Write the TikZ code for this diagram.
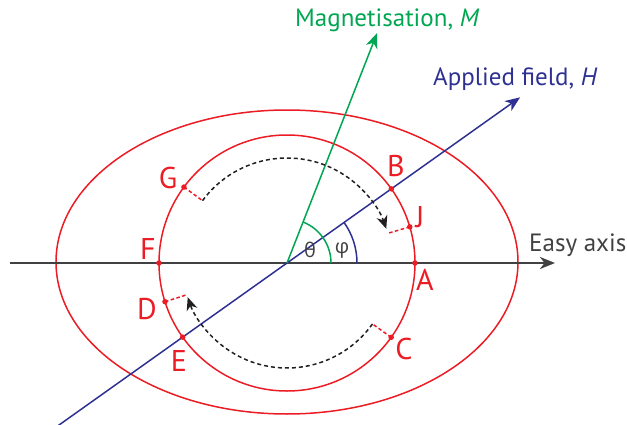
\documentclass[tikz,border=0pt]{standalone}
\usepackage{fontspec}
\setmainfont{PT Sans}
\newfontfamily\grk{Open Sans}
\usetikzlibrary{arrows.meta}
\definecolor{myred}{RGB}{236,28,36}
\definecolor{mygreen}{RGB}{0,166,81}
\definecolor{myblue}{RGB}{46,49,146}
\definecolor{axisgray}{RGB}{65,64,66}
\definecolor{dashblack}{RGB}{35,31,32}
\tikzset{
  redline/.style={draw=myred, line width=1.5pt},
  reddash/.style={draw=myred, line width=1.5pt, dash pattern=on 3.5pt off 2.5pt},
  blackdash/.style={draw=dashblack, line width=1.5pt, dash pattern=on 4pt off 3pt},
  ptdot/.style={circle, fill=myred, inner sep=0pt, minimum size=5.5pt},
  ptlabel/.style={text=myred, inner sep=0pt, font=\fontsize{30}{30}\selectfont},
  biglabel/.style={inner sep=0pt, font=\fontsize{25}{25}\selectfont},
  greeklabel/.style={inner sep=0pt, text=axisgray, font=\grk\fontsize{20}{20}\selectfont},
  bigtip/.style={-{Stealth[length=15pt,width=12pt,inset=4.5pt]}},
  smalltip/.style={-{Stealth[length=13pt,width=11pt,inset=4pt]}}
}
\begin{document}
\begin{tikzpicture}[x=1pt,y=1pt]
\useasboundingbox (-287,-161) rectangle (340,263);
\coordinate (O) at (0,0);
% outer ellipse and inner circle
\draw[redline] (0,1) ellipse (231 and 152);
\draw[redline] (O) circle (128);
% easy axis
\coordinate (axL) at (-277,0);
\coordinate (axR) at (268,0);
\draw[draw=axisgray, line width=2.2pt, bigtip] (axL) -- (axR);
% applied field
\coordinate (Hl) at (215.4:282);
\coordinate (Ht) at (35.4:286);
\draw[draw=myblue, line width=1.5pt, bigtip] (Hl) -- (Ht);
% magnetisation
\coordinate (Mt) at (68.6:247);
\draw[draw=mygreen, line width=1.5pt, bigtip] (O) -- (Mt);
% angle arcs
\draw[draw=mygreen, line width=1.5pt] (44,0) arc[start angle=0, end angle=68.6, radius=44];
\draw[draw=myblue, line width=1.5pt] (70,0) arc[start angle=0, end angle=35.4, radius=70];
% points on circle
\coordinate (pA) at (0:128);
\coordinate (pB) at (35.4:128);
\coordinate (pJ) at (16.4:128);
\coordinate (pG) at (143.6:128);
\coordinate (pF) at (180:128);
\coordinate (pD) at (197.6:128);
\coordinate (pE) at (215.4:128);
\coordinate (pC) at (324.5:128);
\coordinate (iG) at (143.6:105);
\coordinate (iJ) at (16.4:105);
\coordinate (iD) at (197.6:105);
\coordinate (iC) at (324.5:105);
% red dashes
\draw[reddash] (pG) -- (iG);
\draw[reddash] (pJ) -- (iJ);
\draw[reddash] (pD) -- (iD);
\draw[reddash] (pC) -- (iC);
% black dashed arcs
\draw[blackdash, smalltip] (iG) arc[start angle=143.6, end angle=19, radius=105];
\draw[blackdash, smalltip] (iC) arc[start angle=-35.5, end angle=-161, radius=105];
% dots
\foreach \p in {pA,pB,pJ,pG,pF,pD,pE,pC} \node[ptdot] at (\p) {};
% point labels
\node[ptlabel] (lG) at (-119,85.5) {G};
\node[ptlabel] (lF) at (-139,14) {F};
\node[ptlabel] (lD) at (-140,-46) {D};
\node[ptlabel] (lE) at (-108,-98) {E};
\node[ptlabel] (lB) at (109,97) {B};
\node[ptlabel] (lJ) at (133,46) {J};
\node[ptlabel] (lA) at (138,-17) {A};
\node[ptlabel] (lC) at (117,-86) {C};
% greek labels
\node[greeklabel] (th) at (23,13) {θ};
\node[greeklabel] (ph) at (55,13) {φ};
% text labels
\node[biglabel, text=mygreen, anchor=base west] (lM) at (8,236.3) {Magnetisation, \textit{M}};
\node[biglabel, text=myblue, anchor=base west] (lH) at (146,177.3) {Applied field, \textit{H}};
\node[biglabel, text=axisgray, anchor=base west] (lX) at (242,12) {Easy axis};
\end{tikzpicture}
\end{document}
